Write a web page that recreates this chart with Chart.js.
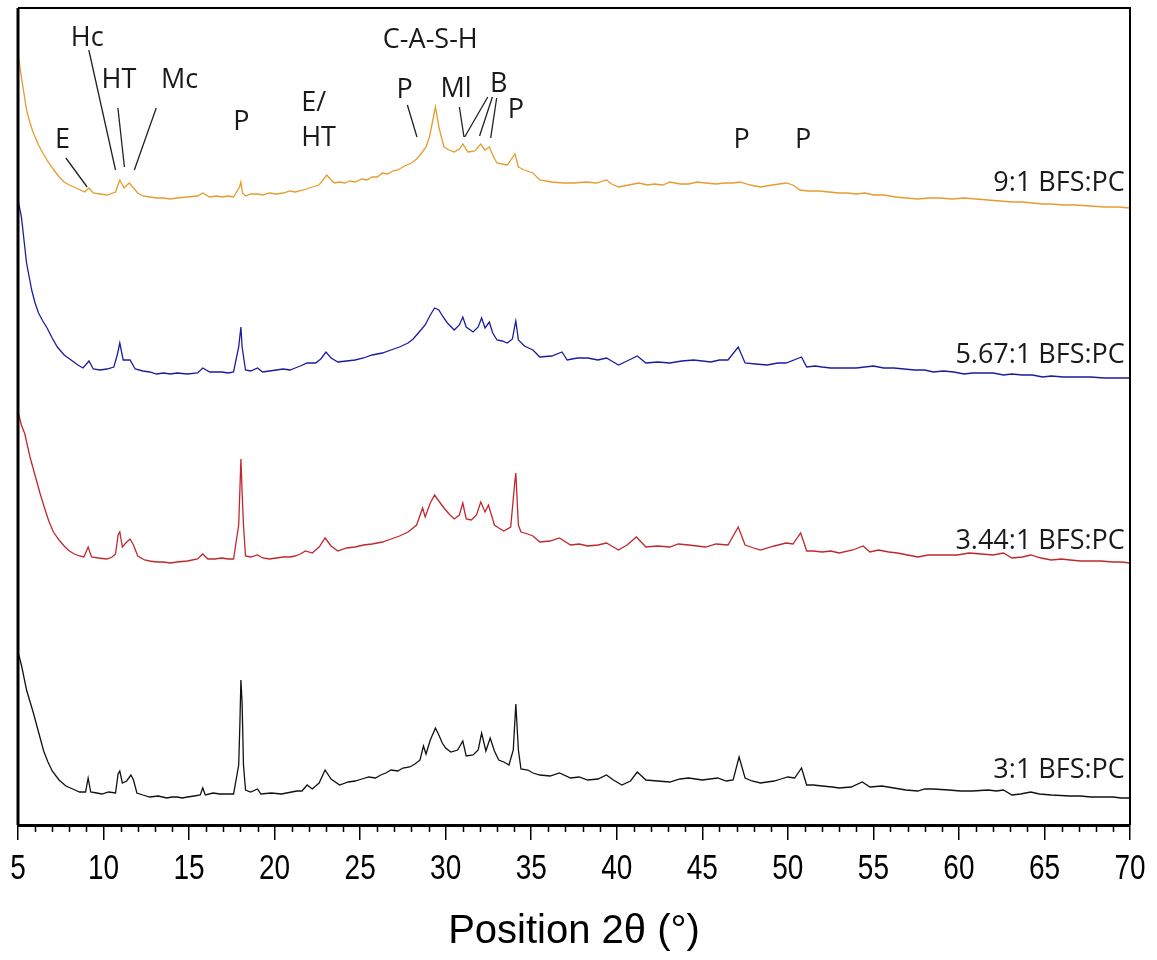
<!DOCTYPE html>
<html lang="en">
<head>
<meta charset="UTF-8">
<title>XRD patterns BFS:PC</title>
<script src="https://cdn.jsdelivr.net/npm/chart.js"></script>
<style>
  body { margin: 0; background: #fff; }
  canvas { display: block; }
</style>
</head>
<body>
<canvas id="xrd" width="1157" height="960"></canvas>
<script>
  // 2theta / intensity pairs (a.u., traces already stacked)
  const ratio3 = [
    [5.0,173],[5.2,160],[5.5,135],[5.9,112],[6.2,93],[6.5,74],[6.75,63],[7.0,54],[7.4,45],[7.8,39],[8.2,36],
    [8.6,33],[8.95,33],[9.1,47],[9.25,33],[9.6,32],[9.9,31],[10.3,33],[10.7,32],[10.85,51],[10.95,54],[11.1,42],
    [11.35,44],[11.6,50],[11.75,45],[11.95,32],[12.3,30],[12.7,28],[13.2,29],[13.7,27],[14.0,28],[14.3,28],
    [14.6,27],[14.9,28],[15.3,29],[15.65,30],[15.8,37],[15.95,30],[16.4,32],[16.8,31],[17.2,31],[17.6,31],
    [17.9,60],[17.97,101],[18.03,145],[18.1,122],[18.18,60],[18.3,35],[18.6,33],[19.0,36],[19.2,31],[19.8,32],
    [20.4,31],[21.0,33],[21.3,34],[21.6,34],[21.9,40],[22.2,36],[22.6,42],[22.95,55],[23.3,46],[23.8,40],
    [24.3,43],[24.7,44],[25.1,46],[25.5,48],[25.9,47],[26.2,50],[26.5,52],[26.8,55],[27.2,54],[27.5,57],
    [27.9,58],[28.2,61],[28.5,65],[28.7,79],[28.85,71],[29.1,85],[29.4,97],[29.6,90],[29.8,82],[30.0,77],
    [30.3,73],[30.7,75],[31.0,84],[31.2,69],[31.6,70],[31.9,75],[32.1,92],[32.35,74],[32.6,87],[32.85,74],
    [33.1,65],[33.4,63],[33.7,60],[33.95,75],[34.1,121],[34.25,75],[34.4,56],[34.8,55],[35.1,52],[35.5,50],
    [36.1,49],[36.65,52],[37.3,47],[37.8,48],[38.3,45],[38.9,46],[39.4,50],[39.8,45],[40.3,40],[40.8,44],
    [41.2,53],[41.7,45],[42.4,44],[43.1,43],[43.7,46],[44.2,47],[45.0,45],[45.9,47],[46.4,44],[46.8,45],
    [47.15,68],[47.5,47],[47.9,44],[48.4,42],[49.2,44],[49.6,46],[50.0,48],[50.4,47],[50.8,57],[51.1,40],
    [51.5,40],[52.0,39],[52.6,38],[53.0,37],[53.7,38],[54.35,43],[54.8,38],[55.5,39],[56.2,37],[56.9,35],
    [57.6,34],[58.0,36],[58.5,36],[59.4,35],[60.1,34],[60.8,34],[61.7,35],[62.2,34],[62.6,35],[63.1,30],
    [63.6,31],[64.2,33],[64.7,31],[65.4,30],[66.5,29],[67.1,29],[67.7,28],[68.4,28],[69.0,28],[69.5,27],
    [70.0,27]
  ];
  const ratio344 = [
    [5.0,413],[5.2,400],[5.4,391],[5.7,368],[6.04,347],[6.3,331],[6.55,317],[6.8,304],[7.07,293],[7.4,285],
    [7.7,279],[8.0,274],[8.3,271],[8.6,269],[8.85,268],[9.1,278],[9.3,268],[9.7,267],[10.2,266],[10.5,268],
    [10.7,271],[10.85,290],[10.95,293],[11.1,278],[11.3,282],[11.55,286],[11.75,280],[12.0,269],[12.4,265],
    [12.7,264],[13.1,263],[13.5,263],[13.9,262],[14.3,263],[14.9,264],[15.5,266],[15.8,271],[16.1,266],
    [16.5,266],[16.9,267],[17.3,266],[17.6,266],[17.9,300],[17.97,335],[18.03,366],[18.1,333],[18.18,300],
    [18.3,269],[18.6,268],[19.0,270],[19.3,267],[19.7,266],[20.1,267],[20.5,268],[20.9,268],[21.2,269],
    [21.5,271],[21.8,274],[22.2,272],[22.6,278],[22.95,287],[23.3,279],[23.7,274],[24.2,277],[24.7,278],
    [25.2,280],[25.7,281],[26.3,283],[26.8,286],[27.3,289],[27.8,293],[28.3,300],[28.65,317],[28.8,308],
    [29.1,322],[29.35,330],[29.6,324],[29.9,317],[30.2,311],[30.5,306],[30.8,310],[31.0,322],[31.2,306],
    [31.5,305],[31.8,310],[32.05,323],[32.3,313],[32.5,320],[32.85,300],[33.1,297],[33.4,294],[33.8,298],
    [34.05,345],[34.1,352],[34.25,300],[34.4,293],[34.8,291],[35.1,289],[35.5,283],[36.1,284],[36.65,287],
    [37.3,280],[37.8,281],[38.3,279],[38.9,280],[39.4,282],[39.8,278],[40.1,275],[40.6,280],[41.15,288],
    [41.7,278],[42.4,279],[43.1,278],[43.6,281],[44.2,280],[45.2,278],[45.8,281],[46.5,280],[47.1,298],
    [47.5,280],[48.0,277],[48.4,275],[49.2,279],[49.9,282],[50.3,281],[50.75,292],[51.1,274],[51.5,274],
    [52.0,273],[52.5,274],[53.0,272],[53.8,275],[54.4,279],[54.8,273],[55.3,275],[55.9,273],[56.4,272],
    [57.0,270],[57.6,268],[58.2,270],[58.8,270],[59.9,270],[60.6,272],[61.3,271],[62.0,270],[62.6,272],
    [63.1,267],[63.7,268],[64.2,270],[64.8,267],[65.4,265],[66.0,266],[66.5,265],[67.1,264],[67.7,264],
    [68.3,264],[69.0,263],[69.5,263],[70.0,262]
  ];
  const ratio567 = [
    [5.0,625],[5.2,608],[5.5,562],[5.8,535],[6.0,522],[6.2,512],[6.45,504],[6.7,497],[7.0,487],[7.3,478],
    [7.7,470],[8.1,465],[8.5,460],[8.8,457],[9.15,464],[9.4,456],[9.8,455],[10.2,456],[10.6,458],[10.8,470],
    [10.95,482],[11.15,465],[11.55,465],[11.85,456],[12.3,454],[12.7,453],[13.1,451],[13.5,452],[13.9,451],
    [14.3,452],[14.9,451],[15.5,452],[15.8,457],[16.2,453],[16.6,453],[16.9,453],[17.3,452],[17.6,453],
    [17.9,478],[18.03,498],[18.1,478],[18.3,455],[18.6,454],[19.0,457],[19.3,453],[19.7,454],[20.1,455],
    [20.5,456],[20.9,455],[21.2,457],[21.5,459],[21.9,462],[22.4,462],[22.7,466],[23.0,473],[23.3,467],
    [23.7,463],[24.2,464],[24.7,465],[25.2,467],[25.7,470],[26.3,472],[26.8,475],[27.3,478],[27.8,482],
    [28.1,486],[28.4,492],[28.8,500],[29.1,510],[29.35,517],[29.6,515],[29.85,508],[30.1,502],[30.5,495],
    [30.8,500],[31.0,508],[31.2,498],[31.6,493],[31.9,498],[32.1,507],[32.3,497],[32.55,503],[32.75,492],
    [33.0,485],[33.3,484],[33.6,482],[33.9,486],[34.05,500],[34.1,504],[34.25,485],[34.6,479],[35.1,475],
    [35.5,468],[36.2,469],[36.8,473],[37.1,465],[37.7,467],[38.3,467],[38.9,465],[39.4,467],[39.8,463],
    [40.1,460],[40.6,464],[41.2,469],[41.7,462],[42.4,463],[43.1,462],[43.8,464],[44.5,465],[45.5,463],
    [46.0,465],[46.5,465],[47.1,478],[47.5,462],[48.1,461],[48.8,460],[49.4,462],[49.9,462],[50.8,468],
    [51.1,458],[51.6,459],[52.0,458],[52.5,457],[53.0,457],[54.0,457],[55.0,459],[55.6,457],[56.2,457],
    [56.8,456],[57.4,455],[58.0,455],[58.5,453],[59.1,454],[59.7,453],[60.3,451],[60.8,452],[61.4,452],
    [62.0,452],[62.6,450],[63.1,451],[63.7,450],[64.3,450],[64.9,448],[65.4,449],[66.1,448],[66.8,448],
    [67.7,448],[68.5,447],[69.2,447],[70.0,447]
  ];
  const ratio9 = [
    [5.0,770],[5.2,748],[5.5,715],[5.7,702],[5.9,692],[6.2,680],[6.45,672],[6.8,662],[7.1,655],[7.4,648],
    [7.7,643],[8.0,640],[8.4,637],[8.9,633],[9.15,637],[9.4,632],[9.8,631],[10.2,630],[10.7,633],[10.95,645],
    [11.2,637],[11.5,642],[11.7,638],[12.0,632],[12.3,629],[12.7,628],[13.1,627],[13.5,627],[13.9,626],
    [14.3,627],[14.9,628],[15.5,629],[15.8,632],[16.2,628],[16.6,629],[16.9,628],[17.3,629],[17.6,628],
    [17.95,638],[18.03,643],[18.12,632],[18.3,629],[18.6,631],[19.0,631],[19.3,630],[19.7,632],[20.1,631],
    [20.5,632],[20.9,634],[21.2,633],[21.7,635],[22.2,638],[22.6,640],[23.05,650],[23.3,645],[23.5,642],
    [23.8,643],[24.1,642],[24.4,644],[24.7,643],[25.1,646],[25.4,645],[25.7,648],[26.0,648],[26.3,652],
    [26.6,651],[26.9,654],[27.2,655],[27.6,659],[28.0,662],[28.3,666],[28.6,672],[28.85,678],[29.05,688],
    [29.25,705],[29.4,718],[29.6,698],[29.9,678],[30.2,675],[30.5,673],[30.8,676],[31.0,681],[31.3,673],
    [31.7,674],[32.05,681],[32.3,675],[32.55,678],[32.8,668],[33.0,662],[33.3,661],[33.6,660],[34.05,671],
    [34.25,658],[34.6,655],[35.1,652],[35.5,645],[36.2,643],[36.9,642],[37.5,642],[38.2,643],[38.8,642],
    [39.4,645],[39.7,641],[40.1,638],[40.7,640],[41.3,642],[41.8,640],[42.2,641],[42.7,640],[43.1,643],
    [43.7,641],[44.2,641],[44.7,643],[45.2,642],[45.8,641],[46.3,642],[46.8,642],[47.2,643],[47.8,640],
    [48.4,638],[49.1,640],[49.9,642],[50.3,640],[50.7,635],[51.2,634],[51.8,634],[52.4,633],[53.0,632],
    [53.5,632],[54.0,631],[54.5,632],[55.0,630],[55.6,630],[56.3,628],[56.9,627],[57.6,626],[58.2,627],
    [58.9,627],[59.6,626],[60.3,627],[61.0,626],[61.7,625],[62.4,624],[63.1,623],[63.7,623],[64.3,622],
    [64.9,621],[65.4,621],[66.1,620],[66.8,620],[67.7,619],[68.5,618],[69.3,618],[70.0,617]
  ];

  const seriesNames = ['3:1 BFS:PC', '3.44:1 BFS:PC', '5.67:1 BFS:PC', '9:1 BFS:PC'];
  const seriesColors = ['#111111', '#c1272d', '#1c1ca0', '#e69c2e'];
  const seriesData = [ratio3, ratio344, ratio567, ratio9];
  // where each series name sits (2theta, a.u.)
  const seriesLabelAt = [[69.7, 55], [69.7, 284], [69.7, 470], [69.7, 642]];

  // phase annotations: text, 2theta, a.u.
  const phaseText = ['E', 'Hc', 'HT', 'Mc', 'P', 'E/', 'HT', 'C-A-S-H', 'P', 'Ml', 'B', 'P', 'P', 'P'];
  const phaseAt = [
    [7.6, 685], [9.05, 787], [10.9, 745], [14.45, 745], [18.05, 703], [21.55, 722], [21.55, 687],
    [29.1, 785], [27.6, 735], [30.6, 736], [33.1, 741], [34.1, 715], [47.3, 685], [50.9, 685]
  ];
  const phaseAlign = ['center', 'center', 'center', 'center', 'center', 'left', 'left',
    'center', 'center', 'center', 'center', 'center', 'center', 'center'];
  // leader lines from label to peak
  const leaders = [
    [[7.8, 667], [9.04, 638]],
    [[9.14, 775], [10.7, 655]],
    [[10.84, 717], [11.22, 658]],
    [[13.08, 717], [11.8, 655]],
    [[27.76, 720], [28.32, 688]],
    [[30.8, 718], [31.07, 688]],
    [[32.46, 728], [31.11, 688]],
    [[32.73, 728], [31.98, 689]],
    [[32.98, 727], [32.63, 687]]
  ];

  const textFont = '27px "Open Sans", "Noto Sans", sans-serif';
  const axisFamily = '"Liberation Sans", Arial, sans-serif';

  const frame = {
    id: 'frame',
    afterDraw(chart) {
      const { ctx, chartArea: a } = chart;
      ctx.save();
      ctx.strokeStyle = '#000';
      ctx.lineWidth = 2;
      ctx.beginPath();
      ctx.moveTo(a.left, a.top);
      ctx.lineTo(a.right, a.top);
      ctx.lineTo(a.right, a.bottom);
      ctx.stroke();
      ctx.lineWidth = 3;
      ctx.beginPath();
      ctx.moveTo(a.left, a.top);
      ctx.lineTo(a.left, a.bottom);
      ctx.stroke();
      ctx.restore();
    }
  };

  // minor ticks every 1 degree, plus narrow tick labels
  const xAxisExtras = {
    id: 'xAxisExtras',
    afterDraw(chart) {
      const { ctx, chartArea: a } = chart;
      const x = chart.scales.x;
      ctx.save();
      ctx.strokeStyle = '#000';
      ctx.lineWidth = 1.5;
      ctx.beginPath();
      for (let v = 5; v <= 70; v++) {
        if (v % 5 === 0) continue;
        const px = Math.round(x.getPixelForValue(v)) + 0.5;
        ctx.moveTo(px, a.bottom);
        ctx.lineTo(px, a.bottom + 7);
      }
      ctx.stroke();

      ctx.fillStyle = '#000';
      ctx.font = '35px ' + axisFamily;
      ctx.textAlign = 'center';
      ctx.textBaseline = 'alphabetic';
      x.ticks.forEach(t => {
        ctx.save();
        ctx.translate(x.getPixelForValue(t.value), a.bottom + 54);
        ctx.scale(0.8, 1);
        ctx.fillText(String(t.value), 0, 0);
        ctx.restore();
      });
      ctx.restore();
    }
  };

  const notes = {
    id: 'notes',
    afterDatasetsDraw(chart) {
      const { ctx } = chart;
      const sx = chart.scales.x, sy = chart.scales.y;
      ctx.save();
      ctx.strokeStyle = '#222';
      ctx.lineWidth = 1.3;
      ctx.beginPath();
      leaders.forEach(([p, q]) => {
        ctx.moveTo(sx.getPixelForValue(p[0]), sy.getPixelForValue(p[1]));
        ctx.lineTo(sx.getPixelForValue(q[0]), sy.getPixelForValue(q[1]));
      });
      ctx.stroke();
      ctx.font = textFont;
      ctx.fillStyle = '#1a1a1a';
      ctx.textBaseline = 'middle';
      phaseText.forEach((t, i) => {
        ctx.textAlign = phaseAlign[i];
        ctx.fillText(t, sx.getPixelForValue(phaseAt[i][0]), sy.getPixelForValue(phaseAt[i][1]));
      });
      ctx.textAlign = 'right';
      seriesNames.forEach((t, i) => {
        ctx.fillText(t, sx.getPixelForValue(seriesLabelAt[i][0]), sy.getPixelForValue(seriesLabelAt[i][1]));
      });
      ctx.restore();
    }
  };

  const ctx = document.getElementById('xrd').getContext('2d');
  new Chart(ctx, {
    type: 'line',
    data: {
      datasets: seriesData.map((d, i) => ({
        label: seriesNames[i],
        data: d.map(([x, y]) => ({ x, y })),
        borderColor: seriesColors[i],
        borderWidth: 1.3,
        pointRadius: 0,
        tension: 0,
        fill: false
      }))
    },
    options: {
      responsive: false,
      animation: false,
      layout: { padding: { left: 18, right: 27, top: 8, bottom: 0 } },
      plugins: {
        legend: { display: false },
        tooltip: { enabled: false }
      },
      scales: {
        x: {
          type: 'linear',
          min: 5,
          max: 70,
          afterFit: (s) => { s.height = 135; },
          ticks: {
            stepSize: 5,
            display: false
          },
          grid: {
            drawOnChartArea: false,
            drawTicks: true,
            tickLength: 15,
            color: '#000',
            lineWidth: 1.5
          },
          border: { color: '#000', width: 3 },
          title: {
            display: true,
            text: 'Position 2θ (°)',
            color: '#000',
            font: { family: axisFamily, size: 40 },
            padding: { top: 0, bottom: 4 }
          }
        },
        y: { display: false, min: 0, max: 817 }
      }
    },
    plugins: [xAxisExtras, frame, notes]
  });
</script>
</body>
</html>
